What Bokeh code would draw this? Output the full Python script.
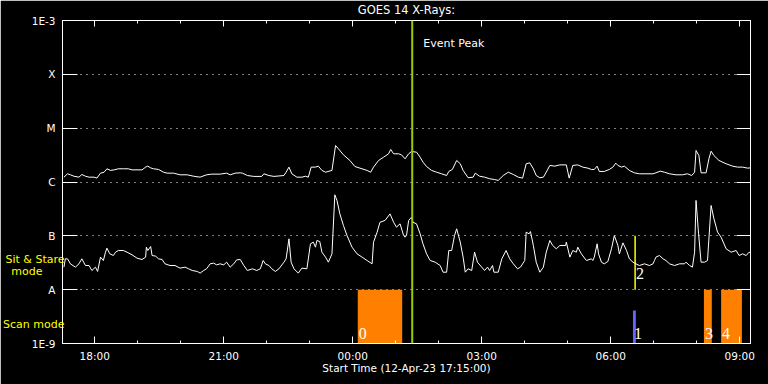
import numpy as np
from bokeh.plotting import figure
from bokeh.models import (FixedTicker, LogAxis, LinearAxis, CustomJSTickFormatter, CustomLabelingPolicy,
                          Label, LabelSet, ColumnDataSource, Span)
from bokeh.embed import file_html
from bokeh.resources import INLINE

# ---------------- data ----------------
TITLE = "GOES 14 X-Rays:"
X_LABEL = "Start Time (12-Apr-23 17:15:00)"

# x axis: minutes after 17:15 on 12-Apr-23
x_tick_minutes = [45, 225, 405, 585, 765, 945]
x_tick_labels = ["18:00", "21:00", "00:00", "03:00", "06:00", "09:00"]
x_minor_minutes = [45 + 60 * k for k in range(16)]

y_tick_values = [1e-9, 1e-8, 1e-7, 1e-6, 1e-5, 1e-4, 1e-3]
y_tick_labels = ["1E-9", "A", "B", "C", "M", "X", "1E-3"]

# long channel (1-8 A), minutes after start, flux in units of 1e-6 W/m2
long_t = [2, 7, 11, 16, 23, 27, 32, 37, 44, 48, 53, 58, 62, 67, 72, 78, 85, 92, 97, 111,
          116, 119, 123, 127, 134, 141, 146, 155, 164, 174, 183, 192, 201, 208, 220, 229, 234, 241, 248,
          251, 258, 267, 278, 281, 288, 295, 309, 312, 316, 320, 327, 334, 339, 343, 347, 353, 357, 362, 367,
          376, 381, 385, 392, 401, 408, 415, 425, 430, 434, 441, 448, 455, 458, 462, 469, 473, 478, 483, 487, 494,
          499, 503, 508, 515, 522, 529, 536, 539, 544, 550, 555, 559, 566, 573, 576, 582, 589, 596, 603, 608,
          615, 622, 629, 636, 642, 647, 652, 657, 661, 666, 671, 675, 680, 687, 694, 703, 707, 712, 719, 726, 733, 738,
          742, 746, 749, 756, 763, 768, 772, 775, 780, 784, 791, 798, 805, 814, 824, 828, 834, 840, 847, 856,
          865, 872, 878, 882, 884, 888, 891, 898, 902, 905, 909, 916, 926, 935, 942, 949, 956, 960]
long_v = [1.23, 1.42, 1.36, 1.28, 1.23, 1.38, 1.28, 1.23, 1.23, 1.18, 1.46, 1.52, 1.76, 1.64, 1.68, 1.76, 1.76, 1.76, 1.68, 1.68,
          1.89, 1.97, 1.83, 1.76, 1.71, 1.52, 1.46, 1.46, 1.36, 1.36, 1.28, 1.23, 1.36, 1.40, 1.40, 1.46, 1.36, 1.46, 1.48,
          1.46, 1.32, 1.27, 1.27, 1.42, 1.32, 1.27, 1.32, 1.52, 1.89, 1.42, 1.23, 1.23, 1.28, 1.23, 1.89, 1.89, 1.97, 1.64, 1.52,
          1.64, 4.77, 4.13, 3.20, 2.51, 1.94, 1.81, 1.64, 1.52, 1.89, 2.51, 2.89, 3.34, 4.02, 3.34, 3.34, 3.20, 2.70, 3.34, 3.69, 3.58,
          2.89, 2.34, 1.94, 1.64, 1.52, 1.42, 1.32, 1.57, 1.71, 2.51, 2.18, 1.64, 1.20, 1.23, 1.46, 1.28, 1.23, 1.15, 1.11, 1.07,
          1.32, 1.52, 1.38, 1.23, 1.18, 2.18, 2.27, 1.76, 1.32, 1.20, 1.23, 1.52, 2.03, 1.97, 2.08, 2.08, 1.18, 2.03, 2.08, 1.89, 1.81, 1.71,
          1.71, 1.97, 1.57, 1.57, 1.71, 1.89, 2.24, 2.03, 1.89, 1.97, 1.64, 1.48, 1.42, 1.42, 1.42, 1.48, 1.59, 1.52, 1.42, 1.36,
          1.36, 1.42, 1.32, 1.52, 3.85, 3.10, 1.48, 1.48, 2.70, 3.74, 3.10, 2.51, 2.18, 1.97, 1.89, 1.89, 1.81, 1.83]

# short channel (0.5-4 A), minutes after start, flux in units of 1e-8 W/m2
short_t = [2, 4, 7, 11, 18, 23, 27, 32, 37, 41, 46, 49, 53, 57, 60, 62, 66, 71, 74, 78,
           85, 90, 97, 104, 111, 116, 117, 119, 123, 125, 130, 134, 139, 143, 150, 157, 164, 171, 176, 181,
           188, 192, 197, 201, 206, 211, 215, 220, 225, 229, 234, 239, 243, 248,
           253, 258, 265, 271, 276, 280, 283, 288, 292, 297, 302, 309, 312, 316, 319, 323, 329, 334, 341, 346,
           350, 353, 355, 359, 362, 367, 371, 376, 380, 383, 387, 392, 397, 404, 411, 418, 425, 432, 434, 439,
           443, 450, 457, 462, 466, 471, 476, 478, 480, 483, 487, 489, 494,
           499, 503, 508, 513, 520, 527, 531, 536, 539, 543, 547, 550, 555, 559, 562, 566, 571, 575, 579, 585,
           589, 593, 596, 600, 602, 608, 613, 619, 624, 629, 635, 639, 645, 647, 651, 653, 657, 661, 666, 671,
           675, 680, 684, 689, 694, 702, 703, 708, 712, 717, 719, 724, 731, 738,
           740, 742, 746, 748, 752, 756, 761, 766, 770, 775, 777, 782, 787, 791, 796, 800, 805, 812, 819, 824,
           826, 828, 833, 838, 842, 847, 854, 861, 868, 870, 875, 879, 882, 884, 887, 891, 896, 900, 905, 909,
           914, 919, 926, 933, 940, 944, 949, 954, 958, 960]
short_v = [2.62, 3.74, 3.74, 3.02, 2.62, 3.02, 3.74, 2.81, 2.81, 2.27, 2.62, 2.18, 4.02, 3.48, 4.97, 5.90, 4.63, 4.31, 4.97, 5.34,
           5.34, 4.97, 4.44, 3.85, 3.63, 4.02, 6.16, 5.34, 6.34, 4.31, 4.19, 3.74, 3.63, 3.02, 2.81, 2.81, 2.51, 2.62, 2.44, 2.27,
           2.18, 2.03, 2.27, 2.44, 3.02, 3.11, 2.89, 3.02, 2.89, 3.24, 2.62, 3.02, 3.58, 3.63,
           2.81, 2.27, 2.44, 2.27, 2.44, 3.48, 3.02, 2.81, 2.44, 2.18, 2.44, 3.24, 3.74, 8.80, 3.24, 2.44, 2.03, 2.51, 2.44, 7.11,
           7.63, 6.16, 8.19, 7.85, 4.97, 4.02, 3.24, 4.63, 57.8, 45.4, 25.6, 15.6, 10.1, 6.16, 4.63, 4.02, 3.48, 3.02, 7.63, 11.7,
           17.9, 19.3, 25.6, 17.9, 14.5, 16.7, 10.1, 9.44, 10.1, 19.3, 22.2, 17.9, 16.7,
           10.9, 7.11, 4.63, 3.48, 3.24, 2.81, 2.11, 2.11, 5.34, 5.34, 10.1, 13.5, 7.63, 4.02, 2.11, 2.44, 2.27, 4.97, 3.24, 2.62,
           2.27, 2.62, 2.27, 2.81, 2.11, 2.11, 3.74, 5.34, 3.74, 3.02, 2.44, 2.62, 3.48, 11.7, 10.9, 12.0, 6.62, 3.24, 2.11, 2.62,
           4.97, 8.19, 6.62, 5.74, 6.62, 6.62, 7.63, 4.02, 5.34, 4.97, 6.16, 4.63, 3.48, 3.74,
           3.48, 4.02, 7.11, 4.63, 3.24, 3.02, 3.34, 5.74, 10.1, 6.62, 4.63, 7.41, 5.34, 3.74, 3.24, 3.02, 2.81, 3.02, 2.81, 3.02,
           3.48, 4.02, 4.31, 3.74, 3.48, 3.02, 2.81, 3.02, 3.02, 3.24, 2.81, 2.62, 4.97, 45.4, 13.5, 3.24, 3.24, 3.48, 36.6, 20.7,
           11.7, 9.44, 5.74, 4.97, 5.34, 4.31, 4.63, 4.31, 4.97, 4.83]

# observing events (minutes after start)
scan_id = ["0", "1", "3", "4"]
scan_start = [412, 796, 895, 919]
scan_end = [474, 800, 906, 948]
scan_top = [1e-8, 4.1e-9, 1e-8, 1e-8]
sit_id = ["2"]
sit_time = [799]
sit_low = [1e-8]
sit_high = [1e-7]
event_peak_minute = 488

# mode captions in the left margin
captions = ["mode", "Sit & Stare", "Scan mode"]

# ---------------- style ----------------
FONT = "DejaVu Sans"
WHITE = "#ffffff"
YELLOW = "#ffff00"
scan_colors = ["#ff8000", "#6464ff", "#ff8000", "#ff8000"]
# caption vertical anchor (in axis units) and label standoff (pixels) per caption
caption_y = [2.18e-8, 3.63e-8, 2.30e-9]
caption_standoff = [-14, -56, -62]

long_flux = np.array(long_v) * 1e-6
short_flux = np.array(short_v) * 1e-8

no_labels = CustomLabelingPolicy(code="for (const i of Array.from(indices)) indices.unset(i); return indices;")

p = figure(width=768, height=384, y_axis_type="log",
           x_range=(0, 960), y_range=(1e-9, 1e-3),
           output_backend="svg", toolbar_location=None,
           background_fill_color="black", border_fill_color="black",
           min_border_left=60, min_border_right=18, min_border_top=20, min_border_bottom=41,
           outline_line_color=WHITE)

p.title.text = TITLE
p.title.align = "center"
p.title.vertical_align = "top"
p.title.text_color = WHITE
p.title.text_font = FONT
p.title.text_font_size = "11.5px"
p.title.text_font_style = "normal"
p.title.standoff = 4
p.title.offset = 0

p.xgrid.visible = False
p.ygrid.ticker = FixedTicker(ticks=y_tick_values[1:-1])
p.ygrid.grid_line_color = WHITE
p.ygrid.grid_line_dash = "1 5"
p.ygrid.grid_line_width = 1

# bottom axis
xa = p.xaxis[0]
xa.ticker = FixedTicker(ticks=x_tick_minutes, minor_ticks=x_minor_minutes)
xa.major_label_overrides = dict(zip(x_tick_minutes, x_tick_labels))
xa.major_tick_in = 7
xa.major_tick_out = 0
xa.minor_tick_in = 3
xa.minor_tick_out = 0
xa.major_tick_line_color = WHITE
xa.minor_tick_line_color = WHITE
xa.axis_line_color = WHITE
xa.major_label_text_color = WHITE
xa.major_label_text_font = FONT
xa.major_label_text_font_size = "10.5px"
xa.major_label_standoff = 6
xa.axis_label = X_LABEL
xa.axis_label_text_color = WHITE
xa.axis_label_text_font = FONT
xa.axis_label_text_font_size = "10.5px"
xa.axis_label_text_font_style = "normal"
xa.axis_label_standoff = -3

# top axis (ticks only)
ta = LinearAxis(ticker=FixedTicker(ticks=x_tick_minutes, minor_ticks=x_minor_minutes),
                major_tick_in=6, major_tick_out=0, minor_tick_in=3, minor_tick_out=0,
                major_tick_line_color=WHITE, minor_tick_line_color=WHITE, axis_line_color=WHITE,
                major_label_policy=no_labels, major_label_standoff=0,
                major_label_text_font_size="1px", major_label_text_color=None)
p.add_layout(ta, "above")

# left axis
ya = p.yaxis[0]
ya.ticker = FixedTicker(ticks=y_tick_values, minor_ticks=[])
ya.formatter = CustomJSTickFormatter(args=dict(labels=y_tick_labels),
                                     code="return labels[Math.round(Math.log10(tick)) + 9];")
ya.major_tick_in = 15
ya.major_tick_out = 0
ya.minor_tick_line_color = None
ya.major_tick_line_color = WHITE
ya.axis_line_color = WHITE
ya.major_label_text_color = WHITE
ya.major_label_text_font = FONT
ya.major_label_text_font_size = "10.5px"
ya.major_label_standoff = 7

# caption axes: label-only axes stacked in the left margin (negative standoff lets them overlap)
for txt, cy, so in zip(captions, caption_y, caption_standoff):
    cap = LogAxis(ticker=FixedTicker(ticks=[cy], minor_ticks=[]),
                  formatter=CustomJSTickFormatter(args=dict(t=txt), code="return t;"),
                  major_tick_in=0, major_tick_out=0, major_tick_line_color=None,
                  minor_tick_line_color=None, axis_line_color=None,
                  major_label_standoff=so, major_label_text_color=YELLOW,
                  major_label_text_font=FONT, major_label_text_font_size="11px")
    p.add_layout(cap, "left")

# right axis (ticks only)
ra = LogAxis(ticker=FixedTicker(ticks=y_tick_values, minor_ticks=[]),
             major_tick_in=14, major_tick_out=0, minor_tick_line_color=None,
             major_tick_line_color=WHITE, axis_line_color=WHITE,
             major_label_policy=no_labels, major_label_standoff=0,
             major_label_text_font_size="1px", major_label_text_color=None)
p.add_layout(ra, "right")

# observing-mode bars
scan_src = ColumnDataSource(dict(id=scan_id, left=scan_start, right=scan_end,
                                 bottom=[y_tick_values[0]] * len(scan_id), top=scan_top,
                                 color=scan_colors))
p.quad(left="left", right="right", bottom="bottom", top="top", color="color",
       line_color=None, source=scan_src)
sit_src = ColumnDataSource(dict(id=sit_id, x=sit_time, y0=sit_low, y1=sit_high))
p.segment(x0="x", y0="y0", x1="x", y1="y1", line_color=YELLOW, line_width=1.5, source=sit_src)

# flux curves
p.line(long_t, long_flux, line_color=WHITE, line_width=1)
p.line(short_t, short_flux, line_color=WHITE, line_width=1)

# event peak
p.add_layout(Span(location=event_peak_minute, dimension="height", line_color="#99cc00", line_width=2))

# event numbers
p.add_layout(LabelSet(x="left", y="bottom", text="id", source=scan_src, x_offset=1, y_offset=5,
                      text_color=WHITE, text_font=FONT, text_font_size="16px",
                      text_baseline="alphabetic"))
p.add_layout(LabelSet(x="x", y="y0", text="id", source=sit_src, x_offset=1, y_offset=11,
                      text_color=WHITE, text_font=FONT, text_font_size="16px",
                      text_baseline="alphabetic"))

p.add_layout(Label(x=event_peak_minute, y=1e-3, x_offset=11, y_offset=-23, text="Event Peak",
                   text_align="left", text_baseline="middle",
                   text_color=WHITE, text_font=FONT, text_font_size="11px"))

open("out.html", "w").write(file_html(p, INLINE))
